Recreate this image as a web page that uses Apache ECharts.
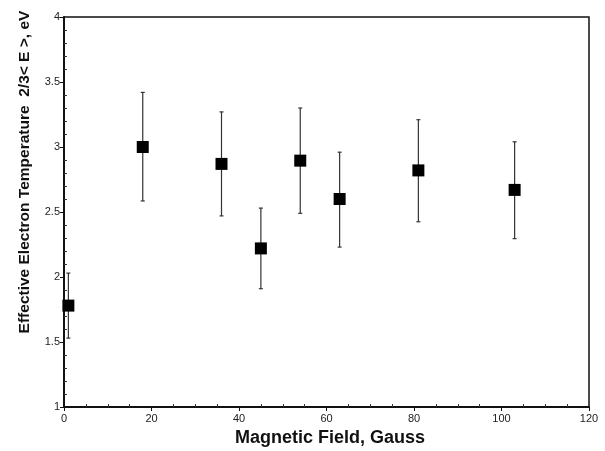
<!DOCTYPE html>
<html>
<head>
<meta charset="utf-8">
<script src="https://cdn.jsdelivr.net/npm/echarts@6/dist/echarts.min.js"></script>
<style>
  html, body { margin: 0; padding: 0; background: #fff; }
  #chart { width: 605px; height: 451px; }
</style>
</head>
<body>
<div id="chart"></div>
<script>
// field in gauss, temperature in eV, error bar ends
var field = [1, 18, 36, 45, 54, 63, 81, 103];
var temp = [1.78, 3.00, 2.87, 2.22, 2.895, 2.60, 2.82, 2.67];
var errLow = [1.53, 2.585, 2.47, 1.91, 2.49, 2.23, 2.425, 2.295];
var errHigh = [2.03, 3.42, 3.27, 2.53, 3.30, 2.96, 3.21, 3.04];
var xTicks = [0, 20, 40, 60, 80, 100, 120];
var yTicks = [1, 1.5, 2, 2.5, 3, 3.5, 4];

var pts = [];
var bars = [];
for (var i = 0; i < field.length; i++) {
    pts.push([field[i], temp[i]]);
    bars.push([field[i], errLow[i], errHigh[i]]);
}

var FONT = '"Liberation Sans", Arial, sans-serif';
var box = { left: 64, right: 16, top: 17, bottom: 44 };

var chart = echarts.init(document.getElementById('chart'), null, { renderer: 'canvas' });

var option = {
    backgroundColor: '#fff',
    animation: false,
    grid: [
        Object.assign({ show: true, borderColor: '#111', borderWidth: 1.5, containLabel: false }, box),
        Object.assign({ show: false, containLabel: false }, box)
    ],
    xAxis: [{
        type: 'value', gridIndex: 0,
        min: xTicks[0], max: xTicks[xTicks.length - 1], interval: 20,
        axisLine: { show: true, onZero: false, lineStyle: { color: '#111', width: 2 } },
        axisTick: { show: true, inside: false, length: 4, lineStyle: { color: '#111', width: 1 } },
        axisLabel: { color: '#222', fontSize: 11, fontFamily: FONT, margin: 6 },
        splitLine: { show: false }
    }, {
        type: 'value', gridIndex: 1,
        min: xTicks[0], max: xTicks[xTicks.length - 1], interval: 20,
        axisLine: { show: false },
        axisTick: { show: false, inside: true },
        minorTick: { show: true, splitNumber: 4, length: 3, lineStyle: { color: '#333', width: 1 } },
        axisLabel: { show: false },
        splitLine: { show: false }
    }],
    yAxis: [{
        type: 'value', gridIndex: 0,
        min: yTicks[0], max: yTicks[yTicks.length - 1], interval: 0.5,
        axisLine: { show: true, onZero: false, lineStyle: { color: '#111', width: 2 } },
        axisTick: { show: true, inside: false, length: 4, lineStyle: { color: '#111', width: 1 } },
        axisLabel: { color: '#222', fontSize: 11, fontFamily: FONT, margin: 4 },
        splitLine: { show: false }
    }, {
        type: 'value', gridIndex: 1,
        min: yTicks[0], max: yTicks[yTicks.length - 1], interval: 0.5,
        axisLine: { show: false },
        axisTick: { show: false, inside: true },
        minorTick: { show: true, splitNumber: 5, length: 3, lineStyle: { color: '#333', width: 1 } },
        axisLabel: { show: false },
        splitLine: { show: false }
    }],
    graphic: [{
        type: 'text',
        x: 330, y: 438,
        style: {
            text: 'Magnetic Field, Gauss',
            font: 'bold 18px ' + FONT,
            fill: '#111',
            textAlign: 'center',
            textVerticalAlign: 'middle'
        }
    }, {
        type: 'text',
        x: 25, y: 172,
        rotation: Math.PI / 2,
        style: {
            text: 'Effective Electron Temperature  2/3< E >, eV',
            font: 'bold 15.5px ' + FONT,
            fill: '#111',
            textAlign: 'center',
            textVerticalAlign: 'middle'
        }
    }],
    series: [{
        type: 'custom',
        xAxisIndex: 0, yAxisIndex: 0,
        data: bars,
        z: 2,
        renderItem: function (params, api) {
            var x = api.value(0);
            var top = api.coord([x, api.value(2)]);
            var bot = api.coord([x, api.value(1)]);
            var cap = 2;
            var st = { stroke: '#333', lineWidth: 1.2 };
            return {
                type: 'group',
                children: [
                    { type: 'line', shape: { x1: top[0], y1: top[1], x2: bot[0], y2: bot[1] }, style: st },
                    { type: 'line', shape: { x1: top[0] - cap, y1: top[1], x2: top[0] + cap, y2: top[1] }, style: st },
                    { type: 'line', shape: { x1: bot[0] - cap, y1: bot[1], x2: bot[0] + cap, y2: bot[1] }, style: st }
                ]
            };
        }
    }, {
        type: 'scatter',
        xAxisIndex: 0, yAxisIndex: 0,
        data: pts,
        symbol: 'rect',
        symbolSize: 12,
        z: 3,
        itemStyle: { color: '#000', opacity: 1 }
    }]
};

chart.setOption(option);
</script>
</body>
</html>
